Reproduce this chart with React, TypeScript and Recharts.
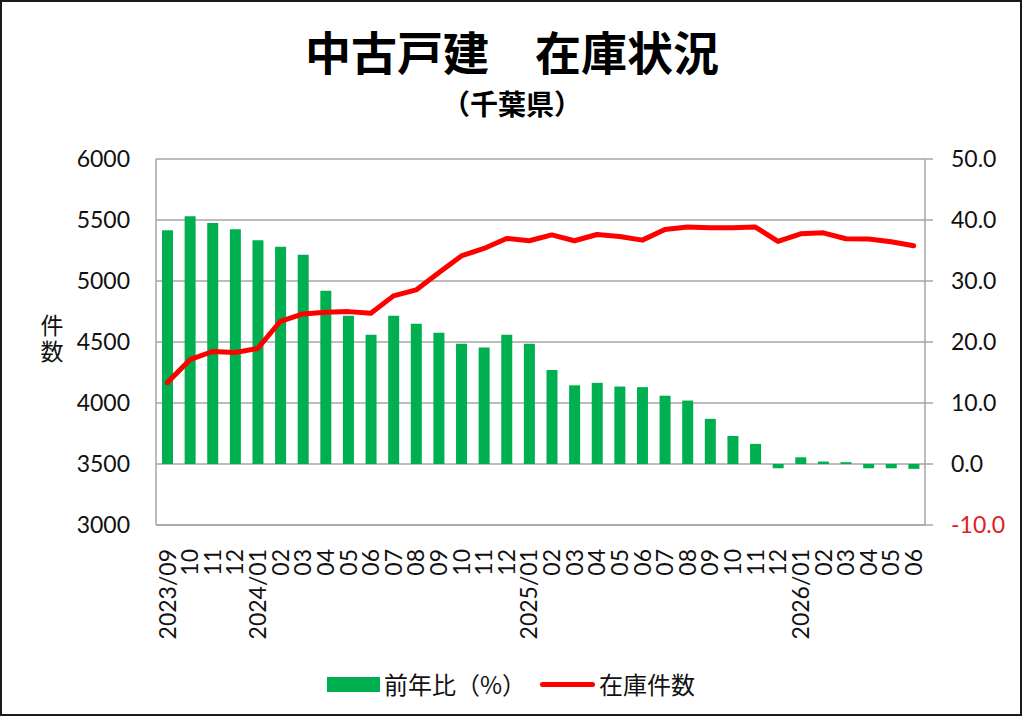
import { Bar, CartesianGrid, ComposedChart, Line, XAxis, YAxis } from "recharts";

const months = [
  "2023/09", "2023/10", "2023/11", "2023/12",
  "2024/01", "2024/02", "2024/03", "2024/04", "2024/05", "2024/06",
  "2024/07", "2024/08", "2024/09", "2024/10", "2024/11", "2024/12",
  "2025/01", "2025/02", "2025/03", "2025/04", "2025/05", "2025/06",
  "2025/07", "2025/08", "2025/09", "2025/10", "2025/11", "2025/12",
  "2026/01", "2026/02", "2026/03", "2026/04", "2026/05", "2026/06",
];

const tickLabels = [
  "2023/09", "10", "11", "12",
  "2024/01", "02", "03", "04", "05", "06", "07", "08", "09", "10", "11", "12",
  "2025/01", "02", "03", "04", "05", "06", "07", "08", "09", "10", "11", "12",
  "2026/01", "02", "03", "04", "05", "06",
];

// 前年比(%)
const yoy = [
  38.3, 40.6, 39.5, 38.5,
  36.7, 35.6, 34.3, 28.4, 24.3, 21.2, 24.3, 23.0, 21.5, 19.7, 19.1, 21.2,
  19.7, 15.4, 12.9, 13.3, 12.7, 12.6, 11.2, 10.4, 7.4, 4.6, 3.3, -0.7,
  1.1, 0.4, 0.3, -0.7, -0.7, -0.8,
];

// 在庫件数
const stock = [
  4167, 4355, 4422, 4414,
  4447, 4670, 4730, 4744, 4749, 4735, 4878, 4927, 5068, 5205, 5267, 5349,
  5330, 5378, 5330, 5381, 5365, 5335, 5422, 5442, 5436, 5436, 5442, 5324,
  5387, 5395, 5346, 5344, 5322, 5289,
];

const leftTicks = [3000, 3500, 4000, 4500, 5000, 5500, 6000];
const rightTicks = [-10, 0, 10, 20, 30, 40, 50];

const GREEN = "#00b050";
const RED = "#ff0000";
const GRID = "#a6a6a6";
const NUM_FONT = "Lato, 'Open Sans', sans-serif";
const JP_FONT = "'Noto Sans CJK JP', 'Noto Sans', sans-serif";

const data = months.map((m, i) => ({ month: m, yoy: yoy[i], stock: stock[i] }));

function LeftTick(props: any) {
  const { x, y, payload } = props;
  return (
    <text x={x - 26} y={y} dy="0.36em" textAnchor="end" fontFamily={NUM_FONT} fontSize={23} fill="#111">
      {payload.value}
    </text>
  );
}

function RightTick(props: any) {
  const { x, y, payload } = props;
  const v = Number(payload.value);
  return (
    <g>
      <line x1={x} x2={x + 8} y1={y} y2={y} stroke={GRID} strokeWidth={1.5} />
      <text x={x + 26} y={y} dy="0.36em" textAnchor="start" fontFamily={NUM_FONT} fontSize={23} fill={v < 0 ? "#e0201f" : "#111"}>
        {v.toFixed(1)}
      </text>
    </g>
  );
}

function MonthTick(props: any) {
  const { x, y, index } = props;
  return (
    <g transform={`translate(${x},${y})`}>
      <text x={-16} y={0} dy="0.36em" transform="rotate(-90)" textAnchor="end" fontFamily={NUM_FONT} fontSize={23} fill="#111">
        {tickLabels[index]}
      </text>
    </g>
  );
}

export default function App() {
  return (
    <div
      style={{
        position: "fixed",
        top: 0,
        left: 0,
        width: 1024,
        height: 717,
        background: "#fff",
      }}
    >
      <div
        style={{
          position: "absolute",
          left: 0,
          top: 0,
          width: 1022,
          height: 716,
          boxSizing: "border-box",
          border: "2px solid #1a1a1a",
        }}
      />
      <div
        style={{
          position: "absolute",
          top: 21,
          left: 0,
          width: 1024,
          textAlign: "center",
          fontFamily: JP_FONT,
          fontWeight: 700,
          fontSize: 46,
          lineHeight: "58px",
          color: "#000",
          whiteSpace: "pre",
        }}
      >
        中古戸建　在庫状況
      </div>
      <div
        style={{
          position: "absolute",
          top: 85,
          left: 0,
          width: 1024,
          textAlign: "center",
          fontFamily: JP_FONT,
          fontWeight: 700,
          fontSize: 28,
          lineHeight: "36px",
          color: "#000",
        }}
      >
        （千葉県）
      </div>
      <div
        style={{
          position: "absolute",
          top: 314,
          left: 38,
          width: 28,
          fontFamily: JP_FONT,
          fontSize: 23,
          lineHeight: "28px",
          letterSpacing: 3,
          writingMode: "vertical-rl",
          color: "#111",
        }}
      >
        件数
      </div>
      <div style={{ position: "absolute", top: 0, left: 0 }}>
        <ComposedChart
          width={1024}
          height={717}
          data={data}
          margin={{ top: 159, right: 9, bottom: 82, left: 56 }}
        >
          <CartesianGrid yAxisId="left" vertical={false} stroke={GRID} strokeWidth={1.5} />
          <XAxis
            dataKey="month"
            height={110}
            interval={0}
            axisLine={{ stroke: GRID, strokeWidth: 1.5 }}
            tickLine={false}
            tick={<MonthTick />}
          />
          <YAxis
            yAxisId="left"
            orientation="left"
            width={100}
            domain={[3000, 6000]}
            ticks={leftTicks}
            interval={0}
            allowDataOverflow
            axisLine={{ stroke: GRID, strokeWidth: 1.5 }}
            tickLine={false}
            tickSize={0}
            tickMargin={0}
            tick={<LeftTick />}
          />
          <YAxis
            yAxisId="right"
            orientation="right"
            width={90}
            domain={[-10, 50]}
            ticks={rightTicks}
            interval={0}
            allowDataOverflow
            axisLine={{ stroke: GRID, strokeWidth: 1.5 }}
            tickLine={false}
            tickSize={0}
            tickMargin={0}
            tick={<RightTick />}
          />
          <Bar yAxisId="right" dataKey="yoy" fill={GREEN} barSize={11} isAnimationActive={false} />
          <Line
            yAxisId="left"
            type="linear"
            dataKey="stock"
            stroke={RED}
            strokeWidth={5}
            dot={false}
            strokeLinejoin="round"
            strokeLinecap="round"
            isAnimationActive={false}
          />
        </ComposedChart>
      </div>
      <div
        style={{
          position: "absolute",
          top: 677,
          left: 327,
          width: 53,
          height: 15,
          background: GREEN,
        }}
      />
      <div
        style={{
          position: "absolute",
          top: 668,
          left: 384,
          fontFamily: JP_FONT,
          fontSize: 24,
          lineHeight: "32px",
          color: "#111",
          whiteSpace: "nowrap",
        }}
      >
        前年比（%）
      </div>
      <div
        style={{
          position: "absolute",
          top: 682,
          left: 540,
          width: 55,
          height: 5,
          borderRadius: 3,
          background: RED,
        }}
      />
      <div
        style={{
          position: "absolute",
          top: 668,
          left: 599,
          fontFamily: JP_FONT,
          fontSize: 24,
          lineHeight: "32px",
          color: "#111",
          whiteSpace: "nowrap",
        }}
      >
        在庫件数
      </div>
    </div>
  );
}
